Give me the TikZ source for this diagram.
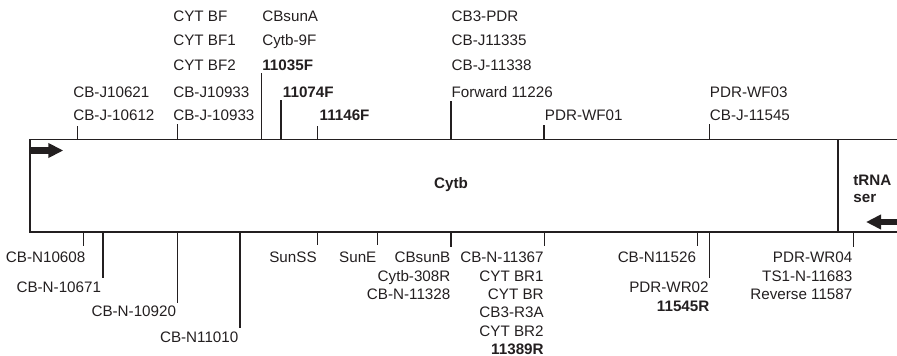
\documentclass[tikz,border=0pt]{standalone}
\usepackage{fontspec}
\setmainfont{Liberation Sans}
\usetikzlibrary{arrows.meta}
\definecolor{cink}{HTML}{231F20}
\tikzset{
  every picture/.style={line width=1.3pt, color=cink},
  lbl/.style={font=\fontsize{15.2}{18}\selectfont, text=cink, inner sep=0pt},
  blbl/.style={font=\fontsize{15.2}{18}\selectfont\bfseries, text=cink, inner sep=0pt},
  tick/.style={draw=cink, line width=1.3pt},
  bigarrow/.style={draw=cink, line width=6.5pt, -{Triangle[length=15pt, width=14pt]}},
}

\begin{document}
\begin{tikzpicture}[x=1pt, y=-1pt]
  \useasboundingbox (0,0) rectangle (897,356);
  % gene box
  \coordinate (boxtl) at (30,139.5);  \coordinate (boxtr) at (897,139.5);
  \coordinate (boxbl) at (30,232);    \coordinate (boxbr) at (897,232);
  \coordinate (divt) at (838,139.5);  \coordinate (divb) at (838,232);
  \draw (boxtr) -- (boxtl) -- (boxbl) -- (boxbr);
  \draw (divt) -- (divb);
  \node[blbl, anchor=base] (cytb) at (451,188.5) {Cytb};
  \node[blbl, anchor=base west] (trna) at (852.7,185) {tRNA};
  \node[blbl, anchor=base west] (ser) at (852.7,202.7) {ser};
  % direction arrows
  \coordinate (fwda) at (29,150.5);  \coordinate (fwdb) at (63.3,150.5);
  \coordinate (reva) at (897,222);   \coordinate (revb) at (866,222);
  \draw[bigarrow] (fwda) -- (fwdb);
  \draw[bigarrow] (reva) -- (revb);
  % primer sites, light strand (above)
  \foreach \n/\x/\t in {jA/77.7/125.7, jB/177.7/124, fC/261.7/73, fD/281/100,
                        fE/317.7/126, fF/451/101, wG/544/125.3, wH/709.3/124.3} {
    \coordinate (\n b) at (\x,139.5);
    \coordinate (\n t) at (\x,\t);
    \draw[tick] (\n b) -- (\n t);
  }
  \foreach \n/\x/\y/\t in {tl1/72.7/97.3/CB-J10621, tl2/72.7/120.7/CB-J-10612,
      tl3/172.7/21.7/CYT BF, tl4/172.7/45.7/CYT BF1, tl5/172.7/70.7/CYT BF2,
      tl6/172.7/97.3/CB-J10933, tl7/172.7/120.7/CB-J-10933,
      tl8/261.7/21.7/CBsunA, tl9/261.7/45.7/Cytb-9F,
      tl10/451/21.7/CB3-PDR, tl11/451/45.7/CB-J11335, tl12/451/70.7/CB-J-11338,
      tl13/451/97.3/Forward 11226, tl14/544.3/120.7/PDR-WF01,
      tl15/709.3/97.3/PDR-WF03, tl16/709.3/120.7/CB-J-11545}
    \node[lbl, anchor=base west] (\n) at (\x,\y) {\t};
  \node[blbl, anchor=base west] (tb1) at (261.7,70.7) {11035F};
  \node[blbl, anchor=base west] (tb2) at (282.3,97.3) {11074F};
  \node[blbl, anchor=base west] (tb3) at (319,120.7) {11146F};
  % primer sites, heavy strand (below)
  \foreach \n/\x/\t in {nA/83.7/245.7, nB/103/278.3, nC/177.7/302.7, nD/240/327.7,
                        sS/317.7/245, sE/377.7/245, sB/451/246.7, nF/544.3/245.7,
                        nG/697.3/245.7, wRb/709.3/277.7, wRd/853.3/246.7} {
    \coordinate (\n t) at (\x,232);
    \coordinate (\n b) at (\x,\t);
    \draw[tick] (\n t) -- (\n b);
  }
  \foreach \n/\x/\y/\t in {bl1/86/262.7/CB-N10608, bl2/101.7/292.3/CB-N-10671,
      bl3/176.7/316.7/CB-N-10920, bl4/239/342/CB-N11010,
      bl5/317.3/262.7/SunSS, bl6/377/262.7/SunE,
      bl7/451/262.7/CBsunB, bl8/451/281/Cytb-308R, bl9/451/299.3/CB-N-11328,
      bl10/544.3/262.7/CB-N-11367, bl11/544.3/281/CYT BR1, bl12/544.3/299.3/CYT BR,
      bl13/544.3/317.7/CB3-R3A, bl14/544.3/336/CYT BR2,
      bl15/696.7/262.7/CB-N11526, bl16/709.3/292.7/PDR-WR02,
      bl17/853/262.7/PDR-WR04, bl18/853/281/TS1-N-11683, bl19/853/299.3/Reverse 11587}
    \node[lbl, anchor=base east] (\n) at (\x,\y) {\t};
  \node[blbl, anchor=base east] (bb1) at (544.3,354) {11389R};
  \node[blbl, anchor=base east] (bb2) at (710,311) {11545R};
\end{tikzpicture}
\end{document}
